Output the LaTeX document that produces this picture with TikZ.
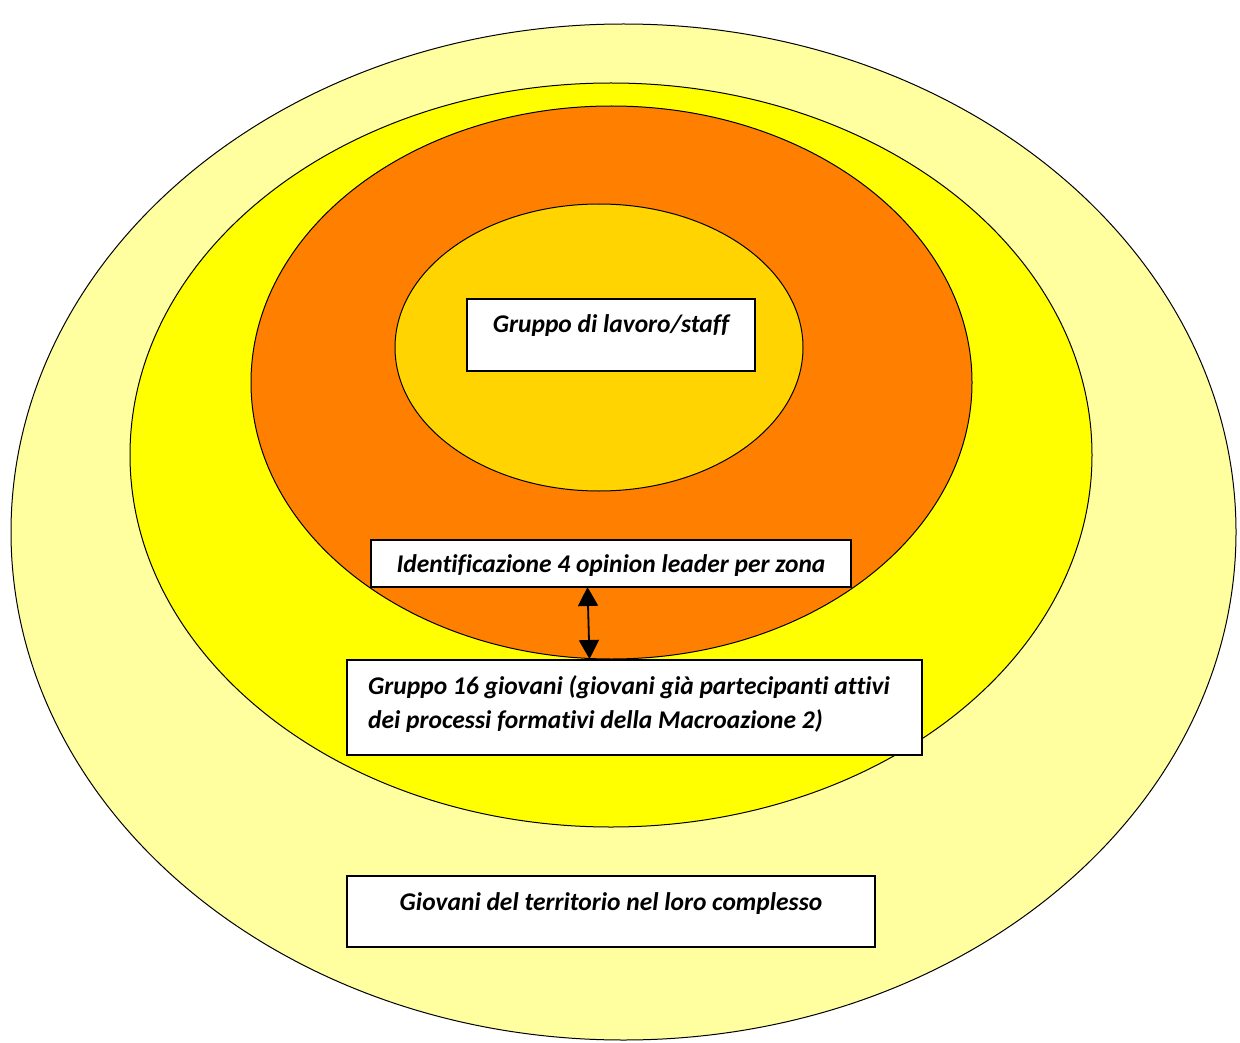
\documentclass[tikz,border=0pt]{standalone}
\usepackage{fontspec}
\setmainfont{Carlito}[Ligatures=NoCommon]
\usetikzlibrary{arrows.meta}
\definecolor{paleY}{RGB}{255,255,160}
\definecolor{brightY}{RGB}{255,255,0}
\definecolor{orng}{RGB}{255,128,0}
\definecolor{gold}{RGB}{255,212,0}
\begin{document}
\begin{tikzpicture}[x=1pt,y=-1pt,
  ring/.style={draw=black,line width=1pt},
  box/.style={draw=black,fill=white,line width=1.5pt,rectangle,inner sep=0pt},
  lbl/.style={font=\fontsize{25.5}{34}\selectfont\bfseries\itshape,inner sep=0pt}]
\useasboundingbox (0,0) rectangle (1240,1043);
\fill[white] (0,0) rectangle (1240,1043);
\draw[ring,fill=paleY] (623.5,532) ellipse [x radius=612.5,y radius=508];
\draw[ring,fill=brightY] (611,455) ellipse [x radius=481,y radius=372];
\draw[ring,fill=orng] (611.5,382.5) ellipse [x radius=360.5,y radius=276.5];
\draw[ring,fill=gold] (599,347.5) ellipse [x radius=204,y radius=143.5];
% boxes
\node[box,minimum width=288pt,minimum height=72pt] (staff) at (611,335) {};
\node[lbl] (stafft) at (611,326) {Gruppo di lavoro/staff};
\node[box,minimum width=480pt,minimum height=47pt] (ident) at (611,563.5) {};
\node[lbl] (identt) at (611,566) {Identificazione 4 opinion leader per zona};
\node[box,minimum width=575pt,minimum height=95pt] (g16) at (634.5,707.5) {};
\node[lbl,anchor=west,align=left] (g16t) at (368,704) {Gruppo 16 giovani (giovani già partecipanti attivi\\dei processi formativi della Macroazione 2)};
\node[box,minimum width=528pt,minimum height=71pt] (giov) at (611,911.5) {};
\node[lbl] (giovt) at (611,904) {Giovani del territorio nel loro complesso};
% arrow
\coordinate (a1) at (587.5,587);
\coordinate (a2) at (589.5,659);
\draw[line width=1.8pt,{Triangle[length=19pt,width=20pt]}-{Triangle[length=19pt,width=20pt]}] (a1) -- (a2);
\end{tikzpicture}
\end{document}
